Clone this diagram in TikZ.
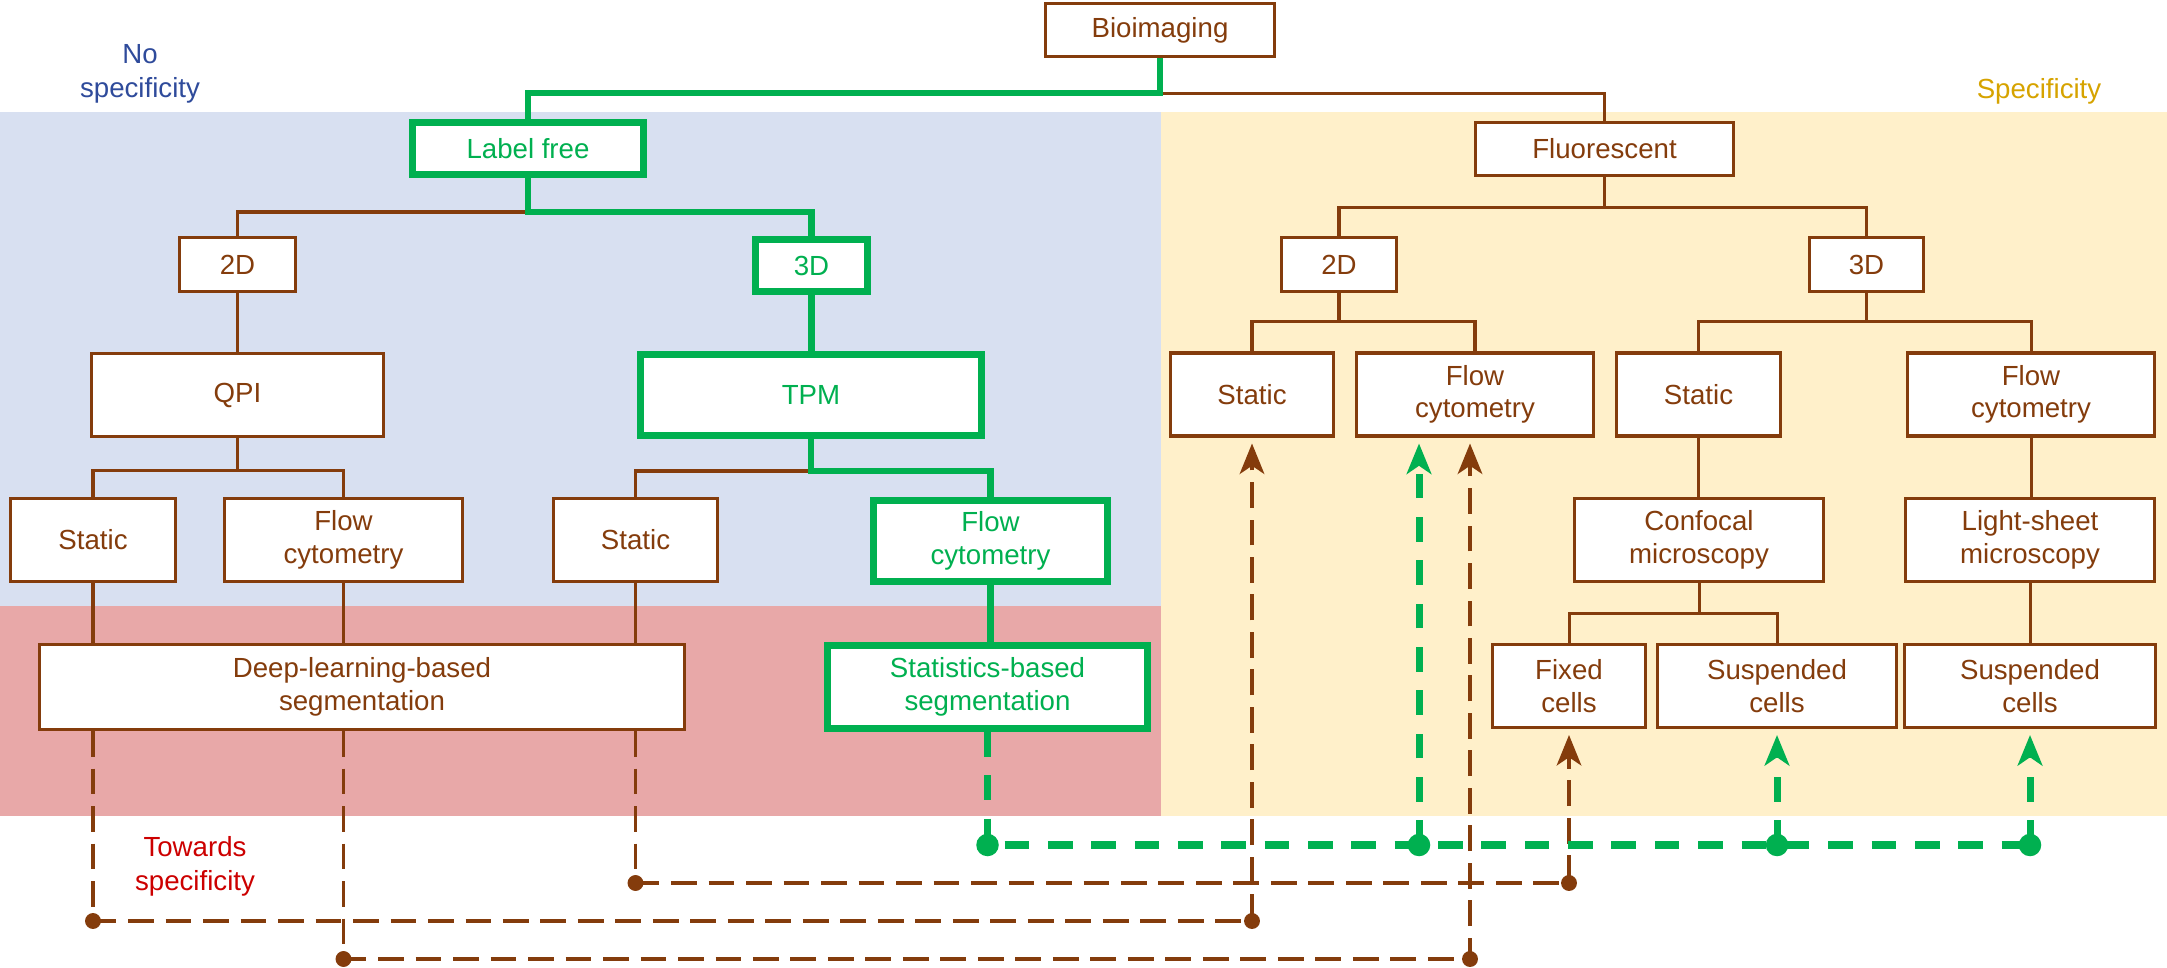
\documentclass[tikz,border=0pt]{standalone}
\usepackage{fontspec}
\setmainfont{Liberation Sans}
\usetikzlibrary{arrows.meta,calc,backgrounds}
\definecolor{brn}{HTML}{843C0C}
\definecolor{grn}{HTML}{00B050}
\definecolor{bgblue}{HTML}{D8E0F1}
\definecolor{bgpink}{HTML}{E8A8A8}
\definecolor{bgyel}{HTML}{FFF0CA}
\definecolor{txtblue}{HTML}{2F4B9B}
\definecolor{txtgold}{HTML}{D6A300}
\definecolor{txtred}{HTML}{CC0000}
\tikzset{
  blk/.style={draw,rectangle,fill=white,align=center,inner sep=0pt,font=\fontsize{11.8}{13.8}\selectfont},
  brnblk/.style={blk,draw=brn,text=brn,line width=1.4pt},
  grnblk/.style={blk,draw=grn,text=grn,line width=3pt},
  lowblk/.style={minimum height=0.8cm},
  highblk/.style={minimum height=1.245cm},
  brnln/.style={brn,line width=1.3pt},
  grnln/.style={grn,line width=2.6pt},
  brndash/.style={brn,line width=1.5pt,dash pattern=on 11pt off 5pt},
  grndash/.style={grn,line width=3pt,dash pattern=on 10.5pt off 8pt},
  tiparr/.style={-{Stealth[length=13pt,width=10.5pt,inset=3.5pt]},shorten >=2.5pt},
  lbl/.style={font=\fontsize{11.8}{14.5}\selectfont,align=center}
}

\begin{document}
\begin{tikzpicture}[x=0.015cm,y=-0.015cm]
  \useasboundingbox (0,0) rectangle (2167,968);

  % label free side
  \node[brnblk,lowblk,minimum width=3.44cm] (bio) at (1160,30) {Bioimaging};
  \node[grnblk,minimum width=3.47cm,minimum height=0.78cm] (lfree) at (528,148.5) {Label free};
  \node[brnblk,lowblk,minimum width=1.74cm] (lf2d) at (237.5,264.5) {2D};
  \node[grnblk,minimum width=1.68cm,minimum height=0.78cm] (lf3d) at (811.5,265.5) {3D};
  \node[brnblk,highblk,minimum width=4.38cm] (qpi) at (237.5,395) {QPI};
  \node[grnblk,minimum width=5.12cm,minimum height=1.215cm] (tpm) at (811,395) {TPM};
  \node[brnblk,highblk,minimum width=2.48cm] (qstat) at (93,540) {Static};
  \node[brnblk,highblk,minimum width=3.57cm] (qflow) at (343.5,540) {Flow\\cytometry};
  \node[brnblk,highblk,minimum width=2.46cm] (tstat) at (635.5,540) {Static};
  \node[grnblk,minimum width=3.51cm,minimum height=1.215cm] (tflow) at (990.5,541) {Flow\\cytometry};
  \node[brnblk,minimum width=9.68cm,minimum height=1.275cm] (deep) at (362,687) {Deep-learning-based\\segmentation};
  \node[grnblk,minimum width=4.8cm,minimum height=1.245cm] (stats) at (987.5,687) {Statistics-based\\segmentation};

  % fluorescent side
  \node[brnblk,lowblk,minimum width=3.87cm] (fluor) at (1604.5,149) {Fluorescent};
  \node[brnblk,lowblk,minimum width=1.73cm] (f2d) at (1339,264.5) {2D};
  \node[brnblk,lowblk,minimum width=1.71cm] (f3d) at (1866.5,264.5) {3D};
  \node[brnblk,highblk,minimum width=2.45cm] (fstat) at (1252,394.5) {Static};
  \node[brnblk,highblk,minimum width=3.56cm] (fflow) at (1475,394.5) {Flow\\cytometry};
  \node[brnblk,highblk,minimum width=2.46cm] (gstat) at (1698.5,394.5) {Static};
  \node[brnblk,highblk,minimum width=3.71cm] (gflow) at (2031,394.5) {Flow\\cytometry};
  \node[brnblk,highblk,minimum width=3.74cm] (conf) at (1699,540) {Confocal\\microscopy};
  \node[brnblk,highblk,minimum width=3.74cm] (light) at (2030,540) {Light-sheet\\microscopy};
  \node[brnblk,highblk,minimum width=2.3cm] (fixed) at (1569,686) {Fixed\\cells};
  \node[brnblk,highblk,minimum width=3.59cm] (susp1) at (1777,686) {Suspended\\cells};
  \node[brnblk,highblk,minimum width=3.77cm] (susp2) at (2030,686) {Suspended\\cells};

  \node[lbl,text=txtblue] (nospec) at (140,74) {No\\specificity};
  \node[lbl,text=txtgold] (spec) at (2039,91) {Specificity};
  \node[lbl,text=txtred] (toward) at (195,866) {Towards\\specificity};

  \coordinate (lvg) at (0,845);
  \coordinate (lva) at (0,883);
  \coordinate (lvb) at (0,921);
  \coordinate (lvc) at (0,959);
  \coordinate (fflowg) at ($(fflow.south)+(-56,0)$);
  \coordinate (fflowb) at ($(fflow.south)+(-5,0)$);

  \begin{scope}[on background layer]
    \fill[bgblue] (0,112) rectangle (1161,606);
    \fill[bgpink] (0,606) rectangle (1161,816);
    \fill[bgyel] (1161,112) rectangle (2167,816);

    \draw[brnln] (bio.south) ++(0,35) -| (fluor.north);
    \draw[brnln] (lfree.south) -- ++(0,34) -| (lf2d.north);
    \draw[brnln] (lf2d.south) -- (lf2d.south |- qpi.north);
    \draw[brnln] (qpi.south) -- ++(0,32) -| (qstat.north);
    \draw[brnln] (qpi.south) -- ++(0,32) -| (qflow.north);
    \draw[brnln] (tpm.south) -- ++(0,32) -| (tstat.north);
    \draw[brnln] (qstat.south) -- (qstat.south |- deep.north);
    \draw[brnln] (qflow.south) -- (qflow.south |- deep.north);
    \draw[brnln] (tstat.south) -- (tstat.south |- deep.north);
    \draw[brnln] (fluor.south) -- ++(0,30) -| (f2d.north);
    \draw[brnln] (fluor.south) -- ++(0,30) -| (f3d.north);
    \draw[brnln] (f2d.south) -- ++(0,29) -| (fstat.north);
    \draw[brnln] (f2d.south) -- ++(0,29) -| (fflow.north);
    \draw[brnln] (f3d.south) -- ++(0,29) -| (gstat.north);
    \draw[brnln] (f3d.south) -- ++(0,29) -| (gflow.north);
    \draw[brnln] (gstat.south) -- (gstat.south |- conf.north);
    \draw[brnln] (gflow.south) -- (gflow.south |- light.north);
    \draw[brnln] (conf.south) -- ++(0,30) -| (fixed.north);
    \draw[brnln] (conf.south) -- ++(0,30) -| (susp1.north);
    \draw[brnln] (light.south) -- (light.south |- susp2.north);

    \draw[grnln] (bio.south) -- ++(0,35) -| (lfree.north);
    \draw[grnln] (lfree.south) -- ++(0,34) -| (lf3d.north);
    \draw[grnln] (lf3d.south) -- (lf3d.south |- tpm.north);
    \draw[grnln] (tpm.south) -- ++(0,32) -| (tflow.north);
    \draw[grnln] (tflow.south) -- (tflow.south |- stats.north);

    % towards specificity
    \draw[brndash,tiparr] (qstat.south |- deep.south) -- (qstat |- lvb) -| (fstat.south);
    \draw[brndash,tiparr] (qflow.south |- deep.south) -- (qflow |- lvc) -| (fflowb);
    \draw[brndash,tiparr] (tstat.south |- deep.south) -- (tstat |- lva) -| (fixed.south);
    \foreach \p in {qstat |- lvb,fstat |- lvb,qflow |- lvc,fflowb |- lvc,tstat |- lva,fixed |- lva}
      \fill[brn] (\p) circle[radius=3.4pt];

    \draw[grndash] (stats.south) -- (stats |- lvg) -- (susp2 |- lvg);
    \draw[grndash,tiparr] (fflowg |- lvg) -- (fflowg);
    \draw[grndash,tiparr] (susp1 |- lvg) -- (susp1.south);
    \draw[grndash,tiparr] (susp2 |- lvg) -- (susp2.south);
    \foreach \p in {stats |- lvg,fflowg |- lvg,susp1 |- lvg,susp2 |- lvg}
      \fill[grn] (\p) circle[radius=4.8pt];
  \end{scope}
\end{tikzpicture}
\end{document}
